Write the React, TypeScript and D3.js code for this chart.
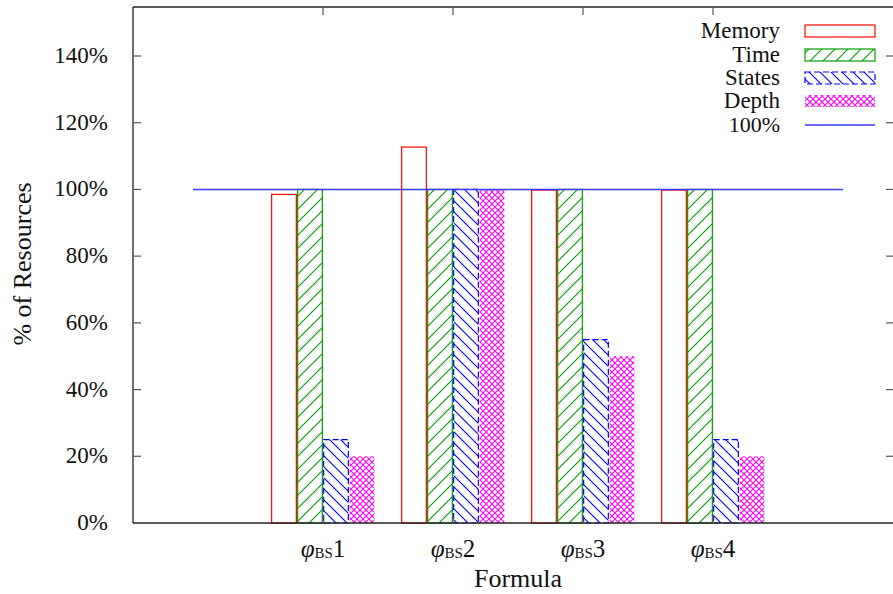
import React from "react";
import * as d3 from "d3";

const categories = ["1", "2", "3", "4"];
const seriesNames = ["Memory", "Time", "States", "Depth"];
const memory = [98.5, 112.7, 99.8, 99.8];
const time = [100, 100, 100, 100];
const states = [25, 100, 55, 25];
const depth = [20, 100, 50, 20];
const yTicks = [0, 20, 40, 60, 80, 100, 120, 140];
const refLine = 100;

const W = 893;
const H = 594;
const FONT = "Liberation Serif, Times New Roman, serif";

export default function App() {
  const left = 133;
  const right = 893;
  const top = 7;
  const bottom = 523;
  const x = d3.scaleLinear().domain([-1.4615, 4.3846]).range([left, right]);
  const y = d3.scaleLinear().domain([0, 140]).range([bottom, 56]);
  const unit = x(1) - x(0);
  const barW = 0.19 * unit;
  const offsets = [-0.3, -0.1, 0.1, 0.3];
  const series = [memory, time, states, depth];
  const fills = ["white", "url(#pTime)", "url(#pStates)", "url(#pDepth)"];
  const strokes = ["#ff0000", "#00a000", "#0000ff", "none"];
  const dashes = [undefined, undefined, "6,3", undefined];

  const legendRows = [31, 55, 78, 101];
  const ts = { fontFamily: FONT } as React.CSSProperties;

  return (
    <svg width={W} height={H} style={{ position: "absolute", left: 0, top: 0, background: "white", fontFamily: FONT }}>
      <defs>
        <pattern id="pTime" patternUnits="userSpaceOnUse" width="13" height="13">
          <rect width="13" height="13" fill="white" />
          <path d="M-1,14 L14,-1 M-7,7 L7,-7 M6,20 L20,6" stroke="#00a000" strokeWidth="1.1" />
        </pattern>
        <pattern id="pStates" patternUnits="userSpaceOnUse" width="11" height="11">
          <rect width="11" height="11" fill="white" />
          <path d="M-1,-1 L12,12 M-6,5 L6,17 M5,-6 L17,6" stroke="#0000ff" strokeWidth="1.1" />
        </pattern>
        <pattern id="pDepth" patternUnits="userSpaceOnUse" width="6" height="6">
          <rect width="6" height="6" fill="white" />
          <path d="M0,0 L6,6 M6,0 L0,6" stroke="#ff00ff" strokeWidth="1.1" />
        </pattern>
      </defs>

      {/* bars */}
      {series.map((vals, si) =>
        vals.map((v, ci) => {
          const cx = x(ci + offsets[si]);
          return (
            <rect
              key={`b${si}-${ci}`}
              x={cx - barW / 2}
              y={y(v)}
              width={barW}
              height={y(0) - y(v)}
              fill={fills[si]}
              stroke={strokes[si]}
              strokeWidth={1.2}
              strokeDasharray={dashes[si]}
            />
          );
        })
      )}

      {/* reference line */}
      <line x1={x(-1)} x2={x(4)} y1={y(refLine)} y2={y(refLine)} stroke="#3a3aff" strokeWidth={1.4} />

      {/* axes */}
      <line x1={left} x2={left} y1={top} y2={bottom} stroke="#222" strokeWidth={1.3} />
      <line x1={left} x2={right} y1={bottom} y2={bottom} stroke="#222" strokeWidth={1.5} />
      <line x1={left} x2={right} y1={top} y2={top} stroke="#222" strokeWidth={1.3} />

      {yTicks.map((t) => (
        <g key={`yt${t}`}>
          {t > 0 && <line x1={left} x2={left + 8} y1={y(t)} y2={y(t)} stroke="#555" strokeWidth={1.2} />}
          {t > 0 && <line x1={right - 7} x2={right} y1={y(t)} y2={y(t)} stroke="#555" strokeWidth={1.2} />}
          <text x={108} y={y(t) + 7} textAnchor="end" fontSize={23} fill="#111" style={ts}>
            {`${t}%`}
          </text>
        </g>
      ))}

      {categories.map((c, ci) => (
        <g key={`xt${c}`}>
          <line x1={x(ci)} x2={x(ci)} y1={bottom} y2={bottom - 8} stroke="#555" strokeWidth={1.2} />
          <line x1={x(ci)} x2={x(ci)} y1={top} y2={top + 8} stroke="#555" strokeWidth={1.2} />
          <text x={x(ci)} y={557} textAnchor="middle" fontSize={25} fill="#111" style={ts}>
            <tspan fontStyle="italic">φ</tspan>
            <tspan fontSize={15} dy={1}>BS</tspan>
            <tspan dy={-1}>{c}</tspan>
          </text>
        </g>
      ))}

      <text x={x(1.5)} y={587} textAnchor="middle" fontSize={26} fill="#111" style={ts}>
        Formula
      </text>
      <text
        transform={`translate(31,264) rotate(-90)`}
        textAnchor="middle"
        fontSize={26}
        fill="#111"
        style={ts}
      >
        % of Resources
      </text>

      {/* legend */}
      {seriesNames.map((n, i) => (
        <g key={`lg${n}`}>
          <text x={780} y={legendRows[i] + 7} textAnchor="end" fontSize={23} fill="#111" style={ts}>
            {n}
          </text>
          <rect
            x={805}
            y={legendRows[i] - 6}
            width={70}
            height={12}
            fill={fills[i]}
            stroke={strokes[i]}
            strokeWidth={1.2}
            strokeDasharray={dashes[i]}
          />
        </g>
      ))}
      <text x={780} y={125 + 7} textAnchor="end" fontSize={22} fill="#111" style={ts}>
        100%
      </text>
      <line x1={805} x2={875} y1={125} y2={125} stroke="#3a3aff" strokeWidth={1.4} />
    </svg>
  );
}
